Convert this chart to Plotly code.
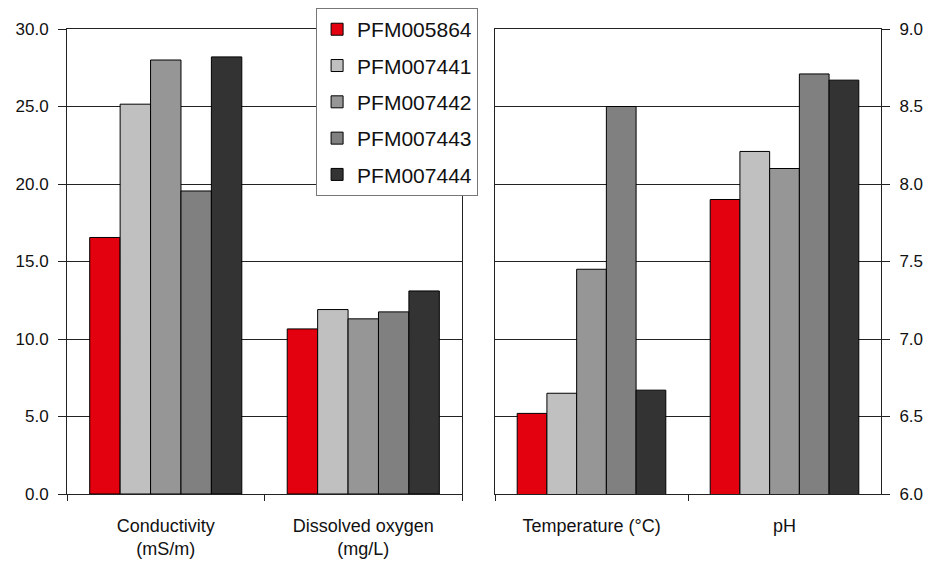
import plotly.graph_objects as go

# Sample sites and their bar colours
sites = ["PFM005864", "PFM007441", "PFM007442", "PFM007443", "PFM007444"]
site_colors = ["#E3000F", "#C0C0C0", "#969696", "#808080", "#333333"]

# Left panel: conductivity and dissolved oxygen
left_categories = ["Conductivity<br>(mS/m)", "Dissolved oxygen<br>(mg/L)"]
conductivity = [16.55, 25.15, 28.0, 19.55, 28.2]
dissolved_oxygen = [10.65, 11.9, 11.3, 11.75, 13.1]

# Right panel: temperature and pH
right_categories = ["Temperature (°C)", "pH"]
temperature = [6.52, 6.65, 7.45, 8.5, 6.67]
ph = [7.9, 8.21, 8.1, 8.71, 8.67]

left_ticks = [0, 5, 10, 15, 20, 25, 30]
right_ticks = [6.0, 6.5, 7.0, 7.5, 8.0, 8.5, 9.0]

FONT = "Liberation Sans, Arial, sans-serif"
LINE = "#222222"

fig = go.Figure()
for i, name in enumerate(sites):
    fig.add_trace(go.Bar(
        x=left_categories, y=[conductivity[i], dissolved_oxygen[i]],
        name=name, legendgroup=name, marker_color=site_colors[i],
        marker_line=dict(color="#000000", width=1),
        xaxis="x", yaxis="y",
    ))
for i, name in enumerate(sites):
    # right axis floor is 6.0, so the bars are clipped there
    fig.add_trace(go.Bar(
        x=right_categories, y=[temperature[i], ph[i]],
        name=name, legendgroup=name, showlegend=False,
        marker_color=site_colors[i],
        marker_line=dict(color="#000000", width=1),
        xaxis="x2", yaxis="y2",
    ))

tick_font = dict(family=FONT, size=17, color="#111")
cat_font = dict(family=FONT, size=18, color="#111")

fig.update_layout(
    width=927, height=562,
    margin=dict(l=67, r=46, t=29, b=68, autoexpand=False),
    paper_bgcolor="white", plot_bgcolor="white",
    barmode="group", bargap=0.23, bargroupgap=0,
    font=dict(family=FONT, color="#111"),
    showlegend=True,
    legend=dict(
        x=0.306, y=1.045, xanchor="left", yanchor="top",
        bgcolor="white", bordercolor="#777777", borderwidth=1,
        font=dict(family=FONT, size=21, color="#111"),
        tracegroupgap=6, traceorder="grouped",
    ),
    xaxis=dict(domain=[0, 0.4853], type="category", anchor="y",
               showline=True, linecolor=LINE, linewidth=1, mirror=True,
               ticks="outside", tickson="boundaries", ticklen=6, tickcolor=LINE,
               ticklabelstandoff=15, showgrid=False, tickfont=cat_font),
    yaxis=dict(domain=[0, 1], anchor="x", range=[0, 30], tickvals=left_ticks,
               tickformat=".1f", ticks="outside", ticklen=8, tickcolor=LINE,
               showline=True, linecolor=LINE, linewidth=1, mirror=True,
               showgrid=True, gridcolor=LINE, gridwidth=1, zeroline=False,
               ticklabelstandoff=6, tickfont=tick_font),
    xaxis2=dict(domain=[0.5258, 1], type="category", anchor="y2",
                showline=True, linecolor=LINE, linewidth=1, mirror=True,
                ticks="outside", tickson="boundaries", ticklen=6, tickcolor=LINE,
                ticklabelstandoff=15, showgrid=False, tickfont=cat_font),
    yaxis2=dict(domain=[0, 1], anchor="x2", side="right", range=[6, 9],
                tickvals=right_ticks, tickformat=".1f",
                ticks="outside", ticklen=8, tickcolor=LINE,
                showline=True, linecolor=LINE, linewidth=1, mirror=True,
                showgrid=True, gridcolor=LINE, gridwidth=1, zeroline=False,
                ticklabelstandoff=6, tickfont=tick_font),
)

fig.write_html("out.html")
